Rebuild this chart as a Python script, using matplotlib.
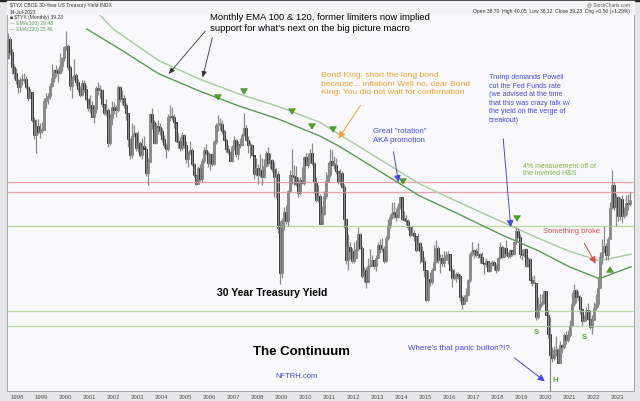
import matplotlib
matplotlib.use("Agg")
import matplotlib.pyplot as plt
import numpy as np
import pandas as pd

plt.rcParams['font.family'] = ['Liberation Sans', 'DejaVu Sans']

# monthly $TYX (30 year yield, %), Aug 1997 .. Jul 2023
first_open = 6.29
closes = (
    [6.61, 6.40, 6.15, 6.05, 5.92] +  # 1997
    [5.80, 5.92, 5.93, 5.95, 5.80, 5.62, 5.72, 5.26, 5.00, 5.16, 5.06, 5.09] +
    [5.09, 5.58, 5.63, 5.66, 5.83, 5.96, 6.10, 6.06, 6.05, 6.16, 6.29, 6.48] +
    [6.49, 6.14, 5.83, 5.96, 6.01, 5.90, 5.78, 5.67, 5.88, 5.78, 5.61, 5.46] +
    [5.50, 5.31, 5.44, 5.79, 5.75, 5.76, 5.52, 5.37, 5.42, 4.87, 5.29, 5.47] +
    [5.43, 5.42, 5.80, 5.60, 5.62, 5.51, 5.37, 4.93, 4.67, 4.99, 5.04, 4.78] +
    [4.87, 4.67, 4.82, 4.77, 4.37, 4.56, 5.36, 5.22, 4.87, 5.15, 5.14, 5.07] +
    [4.94, 4.84, 4.77, 5.30, 5.33, 5.30, 5.23, 4.91, 4.88, 4.79, 5.00, 4.83] +
    [4.60, 4.70, 4.75, 4.52, 4.33, 4.19, 4.45, 4.26, 4.57, 4.76, 4.71, 4.54] +
    [4.69, 4.52, 4.89, 5.17, 5.19, 5.19, 5.07, 4.92, 4.77, 4.72, 4.57, 4.81] +
    [4.92, 4.69, 4.84, 4.83, 5.01, 5.12, 4.92, 4.83, 4.83, 4.67, 4.35, 4.45] +
    [4.34, 4.42, 4.30, 4.48, 4.71, 4.53, 4.59, 4.44, 4.31, 4.35, 3.44, 2.69] +
    [3.59, 3.71, 3.56, 4.07, 4.34, 4.32, 4.30, 4.18, 4.03, 4.25, 4.20, 4.64] +
    [4.51, 4.57, 4.71, 4.53, 4.22, 3.91, 3.99, 3.52, 3.69, 3.99, 4.23, 4.33] +
    [4.57, 4.51, 4.51, 4.40, 4.22, 4.37, 4.13, 3.60, 2.91, 3.13, 3.06, 2.89] +
    [2.94, 3.09, 3.35, 3.12, 2.64, 2.75, 2.55, 2.81, 2.82, 2.91, 2.81, 2.95] +
    [3.17, 3.09, 3.10, 2.89, 3.28, 3.50, 3.64, 3.70, 3.69, 3.63, 3.82, 3.96] +
    [3.60, 3.59, 3.56, 3.47, 3.33, 3.36, 3.32, 3.08, 3.20, 3.07, 2.89, 2.75] +
    [2.25, 2.60, 2.54, 2.75, 2.88, 3.12, 2.92, 2.95, 2.87, 2.92, 3.00, 3.01] +
    [2.75, 2.61, 2.61, 2.67, 2.65, 2.29, 2.18, 2.23, 2.32, 2.58, 3.02, 3.07] +
    [3.06, 3.00, 3.02, 2.96, 2.87, 2.84, 2.90, 2.73, 2.86, 2.88, 2.83, 2.74] +
    [2.94, 3.13, 2.97, 3.11, 3.03, 2.98, 3.08, 3.02, 3.21, 3.39, 3.30, 3.02] +
    [3.00, 3.09, 2.82, 2.93, 2.58, 2.53, 2.53, 1.96, 2.12, 2.18, 2.21, 2.39] +
    [2.00, 1.68, 1.32, 1.28, 1.41, 1.41, 1.19, 1.49, 1.46, 1.65, 1.57, 1.65] +
    [1.83, 2.17, 2.41, 2.30, 2.29, 2.09, 1.89, 1.93, 2.08, 1.93, 1.79, 1.90] +
    [2.11, 2.17, 2.44, 2.96, 3.05, 3.14, 3.00, 3.27, 3.79, 4.16, 3.80, 3.97] +
    [3.65, 3.93, 3.65, 3.68, 3.86, 3.85, 3.92]  # 2023
)
highs = (
    [6.72, 6.65, 6.45, 6.20, 6.12] +
    [5.95, 5.98, 6.03, 6.05, 6.00, 5.82, 5.78, 5.72, 5.30, 5.28, 5.28, 5.20] +
    [5.22, 5.62, 5.70, 5.70, 5.88, 6.19, 6.11, 6.18, 6.12, 6.38, 6.31, 6.50] +
    [6.75, 6.52, 6.18, 5.99, 6.28, 6.04, 5.95, 5.82, 5.92, 5.92, 5.85, 5.63] +
    [5.68, 5.58, 5.50, 5.83, 5.90, 5.85, 5.78, 5.53, 5.61, 5.45, 5.35, 5.58] +
    [5.55, 5.50, 5.85, 5.82, 5.75, 5.67, 5.54, 5.38, 4.96, 5.21, 5.17, 5.06] +
    [5.07, 4.91, 4.96, 4.99, 4.80, 4.62, 5.37, 5.46, 5.25, 5.21, 5.25, 5.20] +
    [5.12, 5.00, 4.87, 5.35, 5.51, 5.48, 5.35, 5.21, 5.04, 4.97, 5.06, 5.02] +
    [4.90, 4.74, 4.90, 4.79, 4.53, 4.34, 4.48, 4.52, 4.62, 4.80, 4.86, 4.74] +
    [4.69, 4.70, 4.92, 5.20, 5.34, 5.29, 5.26, 5.10, 4.95, 4.84, 4.74, 4.83] +
    [4.98, 4.94, 4.90, 4.95, 5.03, 5.38, 5.17, 4.98, 4.91, 4.86, 4.66, 4.62] +
    [4.52, 4.69, 4.62, 4.60, 4.74, 4.80, 4.70, 4.60, 4.56, 4.46, 4.40, 3.56] +
    [3.62, 3.80, 3.83, 4.09, 4.42, 4.77, 4.51, 4.48, 4.30, 4.31, 4.47, 4.65] +
    [4.70, 4.71, 4.77, 4.87, 4.56, 4.30, 4.16, 4.02, 3.81, 4.06, 4.38, 4.56] +
    [4.77, 4.75, 4.66, 4.62, 4.40, 4.43, 4.40, 4.18, 3.62, 3.35, 3.21, 3.11] +
    [3.21, 3.25, 3.47, 3.36, 3.15, 2.80, 2.79, 2.94, 3.09, 3.00, 2.92, 3.00] +
    [3.22, 3.27, 3.28, 3.14, 3.31, 3.60, 3.69, 3.89, 3.89, 3.78, 3.87, 3.97] +
    [3.97, 3.74, 3.67, 3.60, 3.48, 3.49, 3.41, 3.32, 3.36, 3.22, 3.15, 2.97] +
    [2.75, 2.75, 2.71, 2.78, 3.16, 3.25, 3.15, 3.01, 3.02, 3.06, 3.06, 3.07] +
    [3.02, 2.78, 2.77, 2.72, 2.71, 2.67, 2.33, 2.32, 2.44, 2.59, 3.04, 3.21] +
    [3.09, 3.11, 3.20, 3.03, 3.04, 2.87, 2.94, 2.89, 2.88, 2.91, 2.90, 2.85] +
    [2.96, 3.22, 3.17, 3.13, 3.25, 3.05, 3.10, 3.08, 3.21, 3.46, 3.44, 3.34] +
    [3.10, 3.09, 3.12, 2.97, 2.95, 2.64, 2.66, 2.53, 2.30, 2.35, 2.35, 2.40] +
    [2.39, 2.07, 1.96, 1.46, 1.47, 1.64, 1.44, 1.56, 1.51, 1.69, 1.73, 1.74] +
    [1.90, 2.38, 2.51, 2.42, 2.39, 2.33, 2.11, 2.00, 2.13, 2.20, 2.08, 1.99] +
    [2.21, 2.34, 2.62, 3.05, 3.26, 3.49, 3.20, 3.29, 3.89, 4.42, 4.22, 4.02] +
    [3.99, 3.97, 4.00, 3.80, 4.00, 4.02, 4.05]
)
lows = (
    [6.28, 6.35, 6.02, 5.95, 5.86] +
    [5.70, 5.73, 5.85, 5.88, 5.78, 5.58, 5.62, 5.22, 4.93, 4.70, 5.02, 4.96] +
    [5.03, 5.09, 5.45, 5.53, 5.60, 5.81, 5.89, 5.98, 5.90, 6.02, 6.08, 6.24] +
    [6.42, 6.10, 5.75, 5.63, 5.92, 5.82, 5.72, 5.64, 5.66, 5.73, 5.58, 5.40] +
    [5.37, 5.30, 5.21, 5.38, 5.67, 5.63, 5.48, 5.34, 5.33, 4.80, 4.84, 5.17] +
    [5.35, 5.30, 5.39, 5.55, 5.52, 5.45, 5.25, 4.80, 4.61, 4.62, 4.97, 4.74] +
    [4.72, 4.63, 4.61, 4.78, 4.32, 4.16, 4.55, 5.11, 4.86, 4.86, 5.02, 5.00] +
    [4.89, 4.79, 4.62, 4.73, 5.24, 5.26, 5.13, 4.88, 4.79, 4.74, 4.76, 4.78] +
    [4.54, 4.47, 4.67, 4.48, 4.31, 4.17, 4.19, 4.24, 4.21, 4.54, 4.67, 4.47] +
    [4.42, 4.48, 4.50, 4.85, 5.07, 5.09, 5.02, 4.90, 4.72, 4.68, 4.55, 4.55] +
    [4.76, 4.64, 4.60, 4.78, 4.82, 4.98, 4.90, 4.70, 4.62, 4.66, 4.27, 4.32] +
    [4.19, 4.30, 4.17, 4.28, 4.47, 4.49, 4.45, 4.39, 3.97, 3.95, 3.36, 2.51] +
    [2.61, 3.41, 3.52, 3.49, 4.05, 4.19, 4.17, 4.15, 3.96, 4.00, 4.18, 4.17] +
    [4.48, 4.46, 4.53, 4.50, 4.03, 3.88, 3.89, 3.52, 3.55, 3.66, 3.94, 4.22] +
    [4.31, 4.49, 4.44, 4.35, 4.18, 4.17, 4.11, 3.45, 2.85, 2.75, 2.93, 2.86] +
    [2.86, 2.94, 3.07, 3.09, 2.61, 2.54, 2.44, 2.58, 2.79, 2.81, 2.76, 2.73] +
    [2.97, 3.03, 3.04, 2.86, 2.88, 3.24, 3.45, 3.60, 3.62, 3.56, 3.61, 3.77] +
    [3.58, 3.56, 3.50, 3.41, 3.29, 3.33, 3.23, 3.05, 3.08, 2.87, 2.88, 2.62] +
    [2.22, 2.23, 2.47, 2.51, 2.76, 2.86, 2.86, 2.70, 2.81, 2.80, 2.91, 2.84] +
    [2.73, 2.46, 2.57, 2.55, 2.60, 2.23, 2.09, 2.17, 2.22, 2.31, 2.55, 2.98] +
    [2.95, 2.97, 2.94, 2.86, 2.86, 2.67, 2.80, 2.72, 2.71, 2.82, 2.75, 2.70] +
    [2.73, 2.93, 2.95, 2.96, 2.98, 2.94, 2.94, 2.98, 2.99, 3.18, 3.28, 2.95] +
    [2.92, 2.96, 2.79, 2.79, 2.57, 2.48, 2.52, 1.91, 1.93, 2.08, 2.15, 2.17] +
    [1.99, 1.60, 0.70, 1.20, 1.24, 1.30, 1.19, 1.19, 1.36, 1.43, 1.51, 1.54] +
    [1.62, 1.80, 2.14, 2.19, 2.22, 2.01, 1.82, 1.87, 1.89, 1.91, 1.75, 1.67] +
    [1.93, 2.07, 2.13, 2.45, 2.85, 3.05, 2.91, 2.92, 3.27, 3.77, 3.75, 3.48] +
    [3.57, 3.59, 3.54, 3.61, 3.65, 3.75, 3.81]
)

# EMA 100 / EMA 120 (year, yield)
ema_years = [2001.4, 2002.0, 2003.9, 2005.6, 2007.25, 2008.9, 2010.6, 2011.4,
             2013.1, 2014.75, 2016.4, 2018.1, 2019.75, 2021.0, 2022.25, 2023.58]
ema100 = [7.03, 6.78, 6.25, 5.94, 5.69, 5.48, 5.22, 5.02,
          4.60, 4.19, 3.88, 3.57, 3.27, 3.06, 2.90, 3.01]
ema120_years = [2000.9, 2002.25, 2003.9, 2005.6, 2007.25, 2008.9, 2010.6, 2011.4,
                2013.1, 2014.75, 2016.4, 2018.1, 2019.75, 2021.0, 2022.25, 2023.58]
ema120 = [6.78, 6.45, 6.03, 5.74, 5.49, 5.27, 4.99, 4.82,
          4.40, 3.99, 3.68, 3.35, 3.06, 2.80, 2.60, 2.80]

red_levels = [4.22, 4.05]
green_levels = [3.48, 2.06, 1.81]
year_labels = list(range(1998, 2024))

dates = pd.date_range("1997-08-01", periods=len(closes), freq="MS")
t = dates.year + (dates.month - 0.5) / 12.0
opens = [first_open] + closes[:-1]

W, H = 640, 402
fig = plt.figure(figsize=(6.4, 4.02), dpi=100, facecolor="#e6e6e8")


def P(x, y):
    return (x / W, 1 - y / H)


# header strip
fig.add_artist(plt.Rectangle((0, 1 - 2 / H), 1, 2 / H, transform=fig.transFigure, color="#2a2a2a"))
fig.add_artist(plt.Rectangle((7 / W, 1 - 15 / H), 627 / W, 13 / H, transform=fig.transFigure,
                             color="#f4f4f6"))

ax = fig.add_axes([7 / W, 10 / H, 627 / W, 377 / H])
ax.set_facecolor("#f9f9fc")
ax.set_xlim(1997.58, 2023.70)
ax.set_ylim(0.72, 7.03)

for v in red_levels:
    ax.axhline(v, color="#f0a0a8", lw=0.9)
for v in green_levels:
    ax.axhline(v, color="#b8d8a0", lw=0.9)

ax.plot(ema_years, ema100, color="#a8c8a0", lw=1.0)
ax.plot(ema120_years, ema120, color="#5a9a58", lw=1.0)

# candles
ax.vlines(t, lows, highs, color="#8a8a8a", lw=0.9)
for ti, o, c in zip(t, opens, closes):
    col = "black" if c < o else "#707070"
    ax.add_patch(plt.Rectangle((ti - 0.04, min(o, c)), 0.08, max(abs(c - o), 0.02),
                               facecolor=col, edgecolor=col, lw=0.4))

ax.set_yticks([])
ax.set_xticks(year_labels)
ax.set_xticklabels([str(y) for y in year_labels], fontsize=4.3, color="#555555")
ax.tick_params(axis="x", length=0, pad=2)
for s in ax.spines.values():
    s.set_color("#9a9a9a")
    s.set_linewidth(0.6)

# header text
fig.text(*P(10, 6), "$TYX CBOE 30-Year US Treasury Yield INDX", fontsize=3.6, va="center", color="#333333")
fig.text(*P(10, 12), "14-Jul-2023", fontsize=3.6, va="center", color="#333333")
fig.text(*P(630, 5), "@ StockCharts.com", fontsize=3.4, va="center", ha="right", color="#555555")
fig.text(*P(630, 12), "Open 38.70  High 40.05  Low 38.12  Close 39.23  Chg +0.50 (+1.29%)",
         fontsize=3.6, va="center", ha="right", color="#333333")
fig.text(*P(10, 18), "\u25a0 $TYX (Monthly) 39.23", fontsize=3.6, va="center", color="#333333")
fig.text(*P(10, 24), "\u2014 EMA(100) 29.43", fontsize=3.6, va="center", color="#5a9a58")
fig.text(*P(10, 29), "\u2014 EMA(120) 25.46", fontsize=3.6, va="center", color="#5a9a58")

# annotations
fig.text(*P(210, 23), "Monthly EMA 100 & 120, former limiters now implied\n"
         "support for what's next on the big picture macro", fontsize=6.8, va="center",
         linespacing=1.4, color="black")
ax.annotate("", xy=P(167, 77), xytext=P(207, 30), xycoords="figure fraction",
            arrowprops=dict(arrowstyle="-|>,head_width=0.15,head_length=0.35", color="#333333", lw=0.6))
ax.annotate("", xy=P(202, 81), xytext=P(213, 36), xycoords="figure fraction",
            arrowprops=dict(arrowstyle="-|>,head_width=0.15,head_length=0.35", color="#333333", lw=0.6))

fig.text(*P(321, 84), "Bond King: short the long bond\nbecause... inflation! Well no, dear Bond\n"
         "King: You did not wait for confirmation", fontsize=6.1, va="center", linespacing=1.3,
         color="#f0a030")
ax.annotate("", xy=P(337, 142), xytext=P(362, 104), xycoords="figure fraction",
            arrowprops=dict(arrowstyle="-|>,head_width=0.2,head_length=0.4", color="#f0a030", lw=0.7))

fig.text(*P(373, 136), "Great \"rotation\"\nAKA promotion", fontsize=5.6, va="center",
         linespacing=1.35, color="#4848e0")
ax.annotate("", xy=P(399, 186), xytext=P(393, 150), xycoords="figure fraction",
            arrowprops=dict(arrowstyle="-|>,head_width=0.2,head_length=0.4", color="#4848e0", lw=0.7))

fig.text(*P(489, 99), "Trump demands Powell\ncut the Fed Funds rate\n(we advised at the time\n"
         "that this was crazy talk w/\nthe yield on the verge of\nbreakout)", fontsize=5.1,
         va="center", linespacing=1.3, color="#4848e0")
ax.annotate("", xy=P(511, 231), xytext=P(503, 137), xycoords="figure fraction",
            arrowprops=dict(arrowstyle="-|>,head_width=0.2,head_length=0.4", color="#4848e0", lw=0.7))

fig.text(*P(523, 170), "4% measurement off of\nthe inverted H&S", fontsize=5.0, va="center",
         linespacing=1.15, color="#80b040")
fig.text(*P(543, 232), "Something broke", fontsize=5.4, va="center", color="#e04848")
ax.annotate("", xy=P(597, 267), xytext=P(583, 242), xycoords="figure fraction",
            arrowprops=dict(arrowstyle="-|>,head_width=0.2,head_length=0.4", color="#e04848", lw=0.7))

fig.text(*P(408, 349), "Where's that panic button?!?", fontsize=5.8, va="center", color="#4848e0")
ax.annotate("", xy=P(547, 384), xytext=P(512, 357), xycoords="figure fraction",
            arrowprops=dict(arrowstyle="-|>,head_width=0.2,head_length=0.4", color="#4848e0", lw=0.7))

fig.text(*P(217, 293), "30 Year Treasury Yield", fontsize=7.6, fontweight="bold", va="center")
fig.text(*P(253, 352), "The Continuum", fontsize=9.5, fontweight="bold", va="center")
fig.text(*P(275, 377), "NFTRH.com", fontsize=5.5, va="center", color="#4848e0")

for x, y in [(536, 333), (584, 338)]:
    fig.text(*P(x, y), "S", fontsize=5.5, fontweight="bold", va="center", ha="center", color="#5aa030")
fig.text(*P(555, 381), "H", fontsize=5.5, fontweight="bold", va="center", ha="center", color="#5aa030")

# green signal arrows
for x, y in [(64, 9), (218, 99), (244, 93), (292, 113), (312, 128), (333, 131), (403, 183), (517, 220)]:
    ax.annotate("", xy=P(x, y + 5), xytext=P(x, y - 5), xycoords="figure fraction",
                arrowprops=dict(arrowstyle="simple,head_width=0.5,head_length=0.4,tail_width=0.28",
                                fc="#48a820", ec="#2d6a10", lw=0.3))
ax.annotate("", xy=P(610, 265), xytext=P(610, 275), xycoords="figure fraction",
            arrowprops=dict(arrowstyle="simple,head_width=0.5,head_length=0.4,tail_width=0.28",
                            fc="#48a820", ec="#2d6a10", lw=0.3))

fig.savefig("out.png", dpi=100, facecolor=fig.get_facecolor())
